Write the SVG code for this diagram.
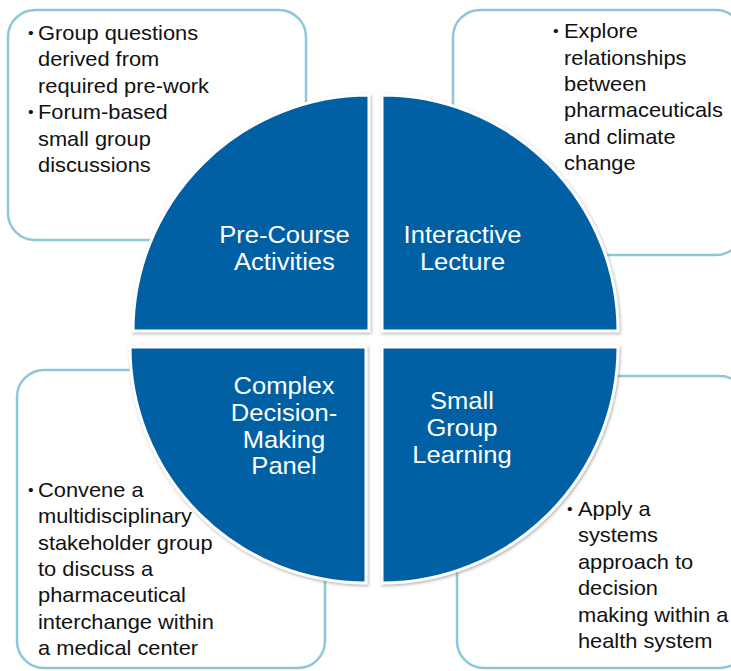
<svg xmlns="http://www.w3.org/2000/svg" width="731" height="671" viewBox="0 0 731 671">
<defs>
<filter id="sh" x="-10%" y="-10%" width="120%" height="120%">
<feDropShadow dx="1" dy="1.5" stdDeviation="1.5" flood-color="#777" flood-opacity="0.55"/>
</filter>
<style>
.box{fill:#fff;stroke:#8cc8da;stroke-width:2.5}
.q{fill:#0461a3;stroke:#fff;stroke-width:3;filter:url(#sh)}
.b{font-family:"Liberation Sans",Arial,sans-serif;font-size:20.5px;fill:#111}
.d{font-size:15px}
.l{font-family:"Liberation Sans",Arial,sans-serif;font-size:24px;fill:#fff;text-anchor:middle}
</style>
</defs>
<rect width="731" height="671" fill="#fff"/>
<g id="box-tl"><rect class="box" x="8" y="10" width="298" height="230" rx="27"/></g>
<g id="box-tr"><rect class="box" x="453" y="10" width="290" height="245" rx="27"/></g>
<g id="box-bl"><rect class="box" x="17" y="370" width="308" height="298" rx="27"/></g>
<g id="box-br"><rect class="box" x="457" y="376" width="290" height="292" rx="27"/></g>
<g id="connectors"></g>
<g id="q-tl"><path class="q" d="M369,331 L133,331 A236,236 0 0 1 369,95 Z"/></g>
<g id="q-tr"><path class="q" d="M382,331 L382,95 A236,236 0 0 1 618,331 Z"/></g>
<g id="q-bl"><path class="q" d="M366,347 L366,583 A236,236 0 0 1 130,347 Z"/></g>
<g id="q-br"><path class="q" d="M382,347 L618,347 A236,236 0 0 1 382,583 Z"/></g>
<g transform="scale(1.065 1)">
<g id="t-tl" class="b">
<text class="d" x="26.3" y="38">•</text><text x="35.7" y="40">Group questions</text>
<text x="35.7" y="66.5">derived from</text>
<text x="35.7" y="93">required pre-work</text>
<text class="d" x="26.3" y="117.5">•</text><text x="35.7" y="119.5">Forum-based</text>
<text x="35.7" y="146">small group</text>
<text x="35.7" y="172.5">discussions</text>
</g>
<g id="t-tr" class="b">
<text class="d" x="519.2" y="36.5">•</text><text x="529.6" y="38.5">Explore</text>
<text x="529.6" y="65">relationships</text>
<text x="529.6" y="91.5">between</text>
<text x="529.6" y="117.5">pharmaceuticals</text>
<text x="529.6" y="144">and climate</text>
<text x="529.6" y="170">change</text>
</g>
<g id="t-bl" class="b">
<text class="d" x="26.3" y="495">•</text><text x="35.7" y="497">Convene a</text>
<text x="35.7" y="523">multidisciplinary</text>
<text x="35.7" y="550">stakeholder group</text>
<text x="35.7" y="576">to discuss a</text>
<text x="35.7" y="602.5">pharmaceutical</text>
<text x="35.7" y="629">interchange within</text>
<text x="35.7" y="655">a medical center</text>
</g>
<g id="t-br" class="b">
<text class="d" x="532.4" y="514">•</text><text x="542.7" y="516">Apply a</text>
<text x="542.7" y="542">systems</text>
<text x="542.7" y="569">approach to</text>
<text x="542.7" y="595">decision</text>
<text x="542.7" y="622">making within a</text>
<text x="542.7" y="648">health system</text>
</g>
<g id="l-tl" class="l"><text x="267.1" y="243">Pre-Course</text><text x="267.1" y="270">Activities</text></g>
<g id="l-tr" class="l"><text x="434.3" y="243">Interactive</text><text x="434.3" y="270">Lecture</text></g>
<g id="l-bl" class="l"><text x="266.7" y="394">Complex</text><text x="266.7" y="421">Decision-</text><text x="266.7" y="448">Making</text><text x="266.7" y="474">Panel</text></g>
<g id="l-br" class="l"><text x="433.8" y="409">Small</text><text x="433.8" y="436">Group</text><text x="433.8" y="463">Learning</text></g>
</g>
</svg>
